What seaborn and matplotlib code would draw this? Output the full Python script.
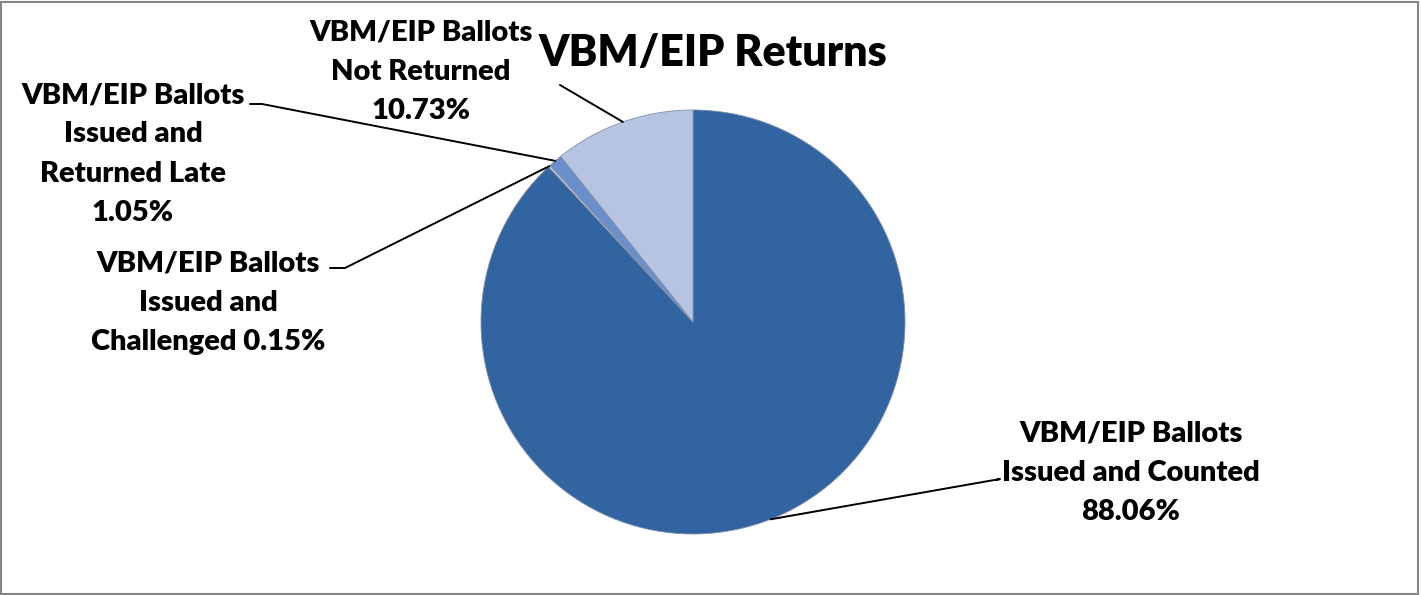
import numpy as np
import matplotlib
matplotlib.use("Agg")
import matplotlib.pyplot as plt
import seaborn as sns

# ----------------------------
# data
# ----------------------------
categories = [
    "VBM/EIP Ballots\nIssued and Counted",
    "VBM/EIP Ballots\nIssued and\nChallenged",
    "VBM/EIP Ballots\nIssued and\nReturned Late",
    "VBM/EIP Ballots\nNot Returned",
]
shares = [88.06, 0.15, 1.05, 10.73]
label_text = [
    "VBM/EIP Ballots\nIssued and Counted\n88.06%",
    "VBM/EIP Ballots\nIssued and\nChallenged 0.15%",
    "VBM/EIP Ballots\nIssued and\nReturned Late\n1.05%",
    "VBM/EIP Ballots\nNot Returned\n10.73%",
]
title = "VBM/EIP Returns"

# ----------------------------
# layout (pixel space, y up)
# ----------------------------
W, H = 1421, 595
cx, cy, r = 693, H - 322, 212
colors = ["#3264A2", "#D3D8E2", "#6A8FCB", "#B6C4E1"]
# text centre positions and where the leader line starts
label_pos = [(1131, H - 473), (208, H - 303), (133, H - 154), (421, H - 72)]
line_start = [(996, H - 480), (330, H - 268), (250, H - 104), (560, H - 85)]
line_knee = [(1000, H - 479), (345, H - 268), (262, H - 104), (560, H - 85)]

sns.set_style("white")
plt.rcParams["font.family"] = ["Lato", "DejaVu Sans"]

fig = plt.figure(figsize=(W / 100, H / 100), dpi=100)
ax = fig.add_axes([0, 0, 1, 1])

wedges, _ = ax.pie(
    shares,
    colors=colors,
    startangle=90,
    counterclock=False,
    center=(cx, cy),
    radius=r,
    frame=True,
    wedgeprops=dict(edgecolor="#7F8FA8", linewidth=0.6),
)
ax.set_xlim(0, W)
ax.set_ylim(0, H)
ax.set_aspect("equal")
ax.axis("off")

# leader lines anchored on wedge mid angles
for w, txt, (tx, ty), (sx, sy), (kx, ky) in zip(wedges, label_text, label_pos, line_start, line_knee):
    mid = np.deg2rad((w.theta1 + w.theta2) / 2)
    ex, ey = cx + r * np.cos(mid), cy + r * np.sin(mid)
    ax.plot([sx, kx, ex], [sy, ky, ey], color="black", lw=1.4, zorder=5)
    ax.text(tx, ty, txt, ha="center", va="center", fontsize=21,
            fontweight="heavy", linespacing=1.62, color="black")

ax.text(713, H - 53, title, ha="center", va="center", fontsize=31,
        fontweight="heavy", color="black")

# chart border
fig.patches.append(plt.Rectangle((0.001, 0.002), 0.997, 0.995, transform=fig.transFigure,
                                 fill=False, edgecolor="#868686", linewidth=1.5))

fig.savefig("out.png", dpi=100)
